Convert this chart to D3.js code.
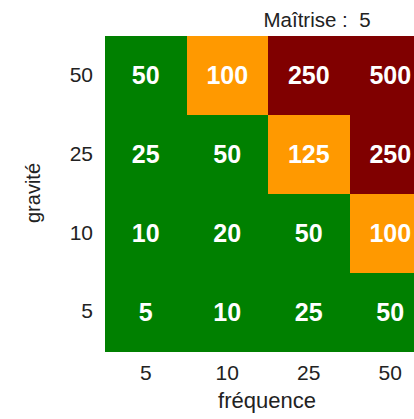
<!DOCTYPE html>
<html lang="fr">
<head>
<meta charset="UTF-8">
<title>Matrice de risque</title>
<style>
    body { margin: 0; background: #fff; }
    svg text { font-family: "Liberation Sans", Arial, sans-serif; }
    .axis path { display: none; }
    .axis line { display: none; }
    .axis text { font-size: 21px; fill: #222; }
    .cell { shape-rendering: crispEdges; }
    .cell-label { font-size: 25px; font-weight: bold; fill: #fff; }
</style>
</head>
<body>
<svg id="chart"></svg>
<script src="https://cdn.jsdelivr.net/npm/d3@7"></script>
<script>
// categories
var frequence = ["5", "10", "25", "50"];
var gravite = ["5", "10", "25", "50"];
var maitrise = 5;

// values, one row per gravité (top to bottom: 50, 25, 10, 5)
var row50 = [50, 100, 250, 500];
var row25 = [25, 50, 125, 250];
var row10 = [10, 20, 50, 100];
var row5 = [5, 10, 25, 50];
var rows = { "50": row50, "25": row25, "10": row10, "5": row5 };

var levels = [100, 250];
var levelColors = ["#008000", "#ff9900", "#800000"];

var width = 414, height = 419;
var svg = d3.select("#chart").attr("width", width).attr("height", height);

var x = d3.scaleBand().domain(frequence).range([105, 431]).padding(0);
var y = d3.scaleBand().domain(gravite.slice().reverse()).range([36, 351]).padding(0);
var color = d3.scaleThreshold().domain(levels).range(levelColors);

var cells = [];
gravite.forEach(function (g) {
    rows[g].forEach(function (v, i) {
        cells.push({ f: frequence[i], g: g, v: v });
    });
});

svg.selectAll("rect.cell")
    .data(cells)
    .enter()
    .append("rect")
    .attr("class", "cell")
    .attr("x", function (d) { return x(d.f); })
    .attr("y", function (d) { return y(d.g); })
    .attr("width", x.bandwidth() + 0.5)
    .attr("height", y.bandwidth() + 0.5)
    .attr("fill", function (d) { return color(d.v); });

svg.selectAll("text.cell-label")
    .data(cells)
    .enter()
    .append("text")
    .attr("class", "cell-label")
    .attr("x", function (d) { return x(d.f) + x.bandwidth() / 2; })
    .attr("y", function (d) { return y(d.g) + y.bandwidth() / 2; })
    .attr("text-anchor", "middle")
    .attr("dominant-baseline", "central")
    .text(function (d) { return d.v; });

svg.append("g")
    .attr("class", "axis")
    .attr("transform", "translate(0,351)")
    .call(d3.axisBottom(x).tickSize(0).tickPadding(14));

svg.append("g")
    .attr("class", "axis")
    .attr("transform", "translate(105,0)")
    .call(d3.axisLeft(y).tickSize(0).tickPadding(12));

svg.append("text")
    .attr("x", 267)
    .attr("y", 408)
    .attr("text-anchor", "middle")
    .style("font-size", "22px")
    .style("fill", "#222")
    .text("fréquence");

svg.append("text")
    .attr("transform", "translate(40,193) rotate(-90)")
    .attr("text-anchor", "middle")
    .style("font-size", "20px")
    .style("fill", "#222")
    .text("gravité");

svg.append("text")
    .attr("x", 317)
    .attr("y", 27)
    .attr("text-anchor", "middle")
    .style("font-size", "20.5px")
    .style("fill", "#222")
    .attr("xml:space", "preserve")
    .text("Maîtrise :  " + maitrise);
</script>
</body>
</html>
